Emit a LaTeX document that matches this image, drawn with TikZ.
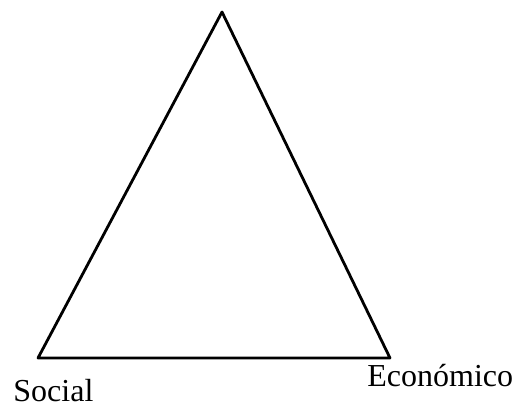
\documentclass[tikz,border=0pt]{standalone}
\usepackage{fontspec}
\setmainfont{Liberation Serif}
\usetikzlibrary{positioning}

\begin{document}
\begin{tikzpicture}[x=0.5pt,y=-0.5pt,
    edgeline/.style={draw,line width=1.4pt,line join=round},
    lbl/.style={inner sep=0pt,font=\fontsize{16}{18}\selectfont}]
    \useasboundingbox (0,0) rectangle (514,408);
    \coordinate (top) at (222,12);
    \coordinate (left) at (38,358);
    \coordinate (right) at (390,358);
    \draw[edgeline] (top) -- (right) -- (left) -- cycle;
    \node[lbl,anchor=base west] (social) at (13,401) {Social};
    \node[lbl,anchor=base west] (econ) at (367,386) {Económico};
\end{tikzpicture}
\end{document}
